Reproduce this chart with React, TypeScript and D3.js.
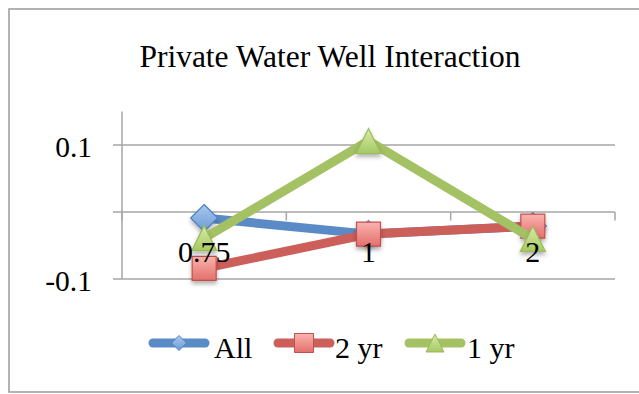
import React from "react";
import * as d3 from "d3";

const categories = ["0.75", "1", "2"];
const seriesNames = ["All", "2 yr", "1 yr"];
const allValues = [-0.009, -0.033, -0.021];
const twoYrValues = [-0.084, -0.033, -0.021];
const oneYrValues = [-0.039, 0.106, -0.04];
const yTickValues = [-0.1, 0.1];
const yGridValues = [-0.1, 0, 0.1];
const title = "Private Water Well Interaction";

const W = 639;
const H = 394;
const plotLeft = 122;
const plotRight = 615;
const FONT = "'Liberation Serif', 'Times New Roman', serif";
const GRID = "#a6a6a6";

type Marker = "diamond" | "square" | "triangle";

const seriesStyles: { line: string; stroke: string; g1: string; g2: string; marker: Marker }[] = [
  { line: "#5a8bc6", stroke: "#4f81bd", g1: "#a9c8f0", g2: "#6b9ad6", marker: "diamond" },
  { line: "#cc5f5a", stroke: "#c0504d", g1: "#f9b3b0", g2: "#e4706b", marker: "square" },
  { line: "#a4c164", stroke: "#9bbb59", g1: "#d8ecaa", g2: "#a6c863", marker: "triangle" },
];

function markerPath(type: Marker, cx: number, cy: number, s: number): string {
  const h = s / 2;
  if (type === "diamond") return `M${cx},${cy - h}L${cx + h},${cy}L${cx},${cy + h}L${cx - h},${cy}Z`;
  if (type === "square") return `M${cx - h},${cy - h}H${cx + h}V${cy + h}H${cx - h}Z`;
  return `M${cx},${cy - h}L${cx + h},${cy + h}L${cx - h},${cy + h}Z`;
}

export default function App() {
  const x = d3.scaleBand<string>().domain(categories).range([plotLeft, plotRight]).padding(0);
  const y = d3.scaleLinear().domain([-0.1, 0.15]).range([279, 111.5]);
  const cx = (c: string) => (x(c) as number) + x.bandwidth() / 2;
  const data = [allValues, twoYrValues, oneYrValues];
  const line = d3
    .line<number>()
    .x((_, i) => cx(categories[i]))
    .y((v) => y(v));

  const markerSizes: Record<Marker, number> = { diamond: 27, square: 24, triangle: 25 };
  const legendSizes: Record<Marker, number> = { diamond: 15, square: 19, triangle: 18 };
  const legendX = [153, 278, 409];
  const legendTextX = [214, 335, 467];
  const legendY = 343;

  const tickXs = categories.map((c) => x(c) as number).concat([plotRight]);

  return (
    <svg
      width={W}
      height={H}
      style={{ position: "absolute", left: 0, top: 0, background: "#fff" }}
      fontFamily={FONT}
    >
      <defs>
        {seriesStyles.map((s, i) => (
          <linearGradient key={i} id={`grad${i}`} x1="0" y1="0" x2="0" y2="1">
            <stop offset="0" stopColor={s.g1} />
            <stop offset="1" stopColor={s.g2} />
          </linearGradient>
        ))}
        <filter id="shadow" x="-50%" y="-50%" width="200%" height="200%">
          <feDropShadow dx="0" dy="3" stdDeviation="2" floodColor="#000" floodOpacity="0.3" />
        </filter>
      </defs>
      <rect x={9} y={9} width={700} height={383} fill="#fff" stroke="#a0a0a0" strokeWidth={1.6} />
      <text x={330} y={66.5} textAnchor="middle" fontSize={31.5} fill="#000">
        {title}
      </text>

      {/* gridlines */}
      {yGridValues.map((v) => (
        <line key={v} x1={plotLeft} x2={plotRight} y1={y(v)} y2={y(v)} stroke={GRID} strokeWidth={1.5} />
      ))}
      {/* y axis */}
      <line x1={plotLeft} x2={plotLeft} y1={y(0.15)} y2={y(-0.1)} stroke={GRID} strokeWidth={1.5} />
      {yGridValues.map((v) => (
        <line key={`t${v}`} x1={113} x2={plotLeft} y1={y(v)} y2={y(v)} stroke={GRID} strokeWidth={1.5} />
      ))}
      {/* x axis ticks */}
      {tickXs.map((tx, i) => (
        <line key={`xt${i}`} x1={tx} x2={tx} y1={y(0)} y2={y(0) + 8.5} stroke={GRID} strokeWidth={1.5} />
      ))}
      {yTickValues.map((v) => (
        <text key={`yl${v}`} x={92} y={y(v) + 12} textAnchor="end" fontSize={29.5} fill="#000">
          {d3.format(".1f")(v).replace("−", "-")}
        </text>
      ))}

      {/* series */}
      {data.map((vals, si) => (
        <g key={si}>
          <path
            d={line(vals) as string}
            fill="none"
            stroke={seriesStyles[si].line}
            strokeWidth={9}
            strokeLinejoin="round"
          />
          {vals.map((v, i) => (
            <path
              key={i}
              d={markerPath(seriesStyles[si].marker, cx(categories[i]), y(v), markerSizes[seriesStyles[si].marker])}
              fill={`url(#grad${si})`}
              stroke={seriesStyles[si].stroke}
              strokeWidth={1.2}
              filter="url(#shadow)"
            />
          ))}
        </g>
      ))}

      {/* category labels */}
      {categories.map((c) => (
        <text key={`c${c}`} x={cx(c)} y={262} textAnchor="middle" fontSize={30} fill="#000">
          {c}
        </text>
      ))}

      {/* legend */}
      {seriesNames.map((n, i) => {
        const lx = legendX[i];
        const s = seriesStyles[i];
        return (
          <g key={n}>
            <line x1={lx} x2={lx + 52} y1={legendY} y2={legendY} stroke={s.line} strokeWidth={9} strokeLinecap="round" />
            <path
              d={markerPath(s.marker, lx + 26, legendY, legendSizes[s.marker])}
              fill={`url(#grad${i})`}
              stroke={s.stroke}
              strokeWidth={1}
            />
            <text x={legendTextX[i]} y={358} fontSize={30} fill="#000">
              {n}
            </text>
          </g>
        );
      })}
    </svg>
  );
}
